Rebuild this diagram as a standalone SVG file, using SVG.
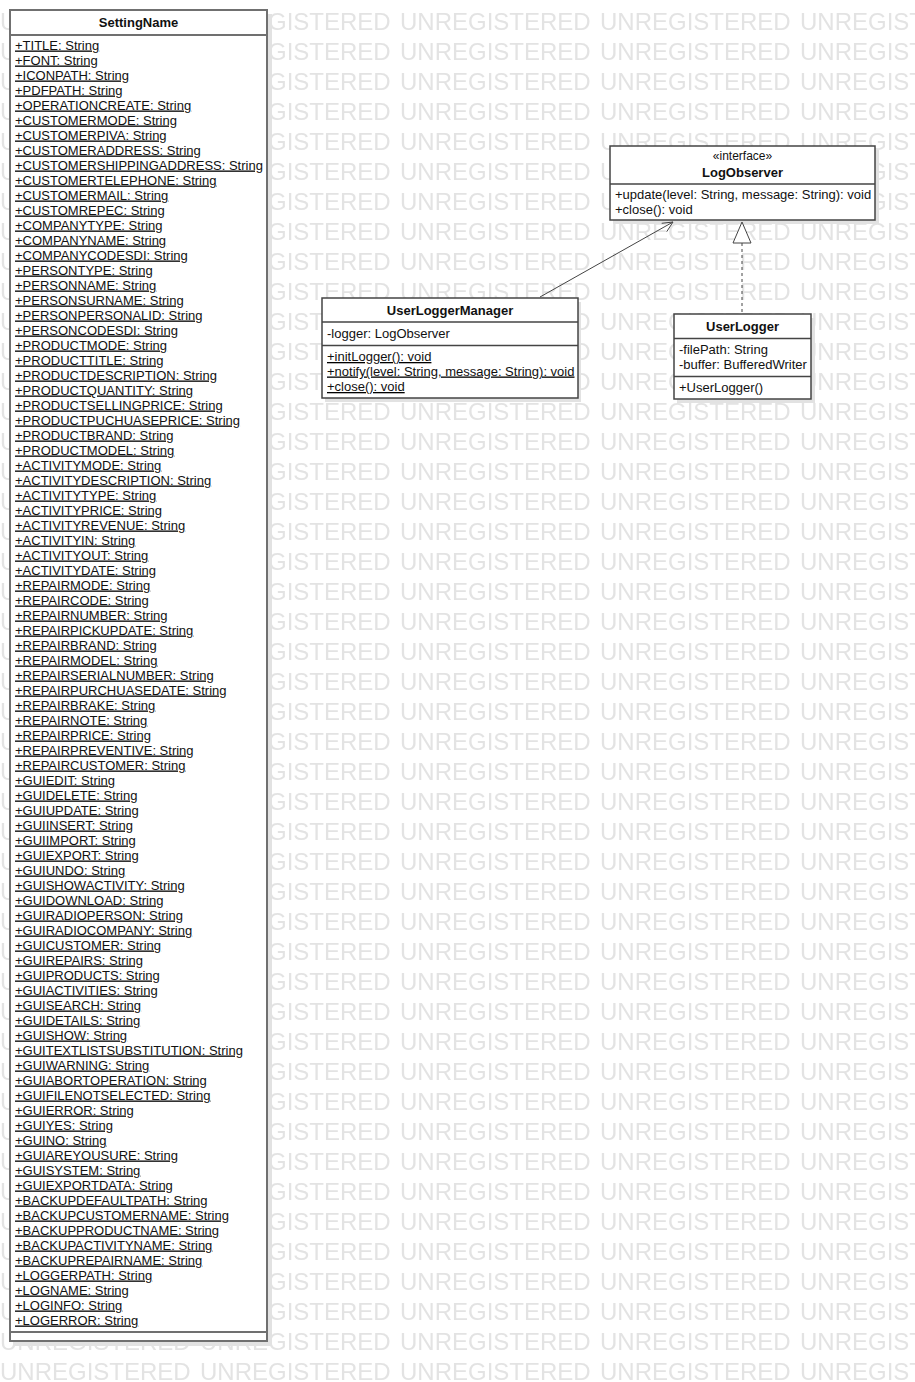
<svg xmlns="http://www.w3.org/2000/svg" width="915" height="1382" viewBox="0 0 915 1382">
<style>
text{font-family:"Liberation Sans",Arial,sans-serif;font-size:13px;fill:#111}
.wm{font-size:24px;fill:#e3e3e3}
.name{font-weight:bold;text-anchor:middle}
.st{text-decoration:underline}
.ster{font-size:12px;text-anchor:middle}
.box{fill:#fff;stroke:#444;stroke-width:1.5}
.shadow{fill:#e2e2e2}
.sep{stroke:#444;stroke-width:1.5}
.conn{fill:none;stroke:#444;stroke-width:1}
</style>
<defs>
<pattern id="wmp" x="0" y="0" width="200" height="30" patternUnits="userSpaceOnUse">
<text class="wm" x="0" y="29.5">UNREGISTERED</text>
</pattern>
</defs>
<rect width="915" height="1382" fill="#fff"/>
<rect y="0" width="915" height="1382" fill="url(#wmp)"/>

<g id="SettingName">
<rect class="shadow" x="13" y="14" width="259" height="1332"/>
<rect class="box" x="10" y="10" width="257" height="1331" style="stroke:#707070;stroke-width:2"/>
<line class="sep" x1="10" y1="35" x2="267" y2="35" style="stroke:#707070;stroke-width:2"/>
<line class="sep" x1="10" y1="1332" x2="267" y2="1332" style="stroke:#707070;stroke-width:2"/>
<text class="name" x="138.5" y="27">SettingName</text>
<g class="st">
<text x="15" y="49.5">+TITLE: String</text>
<text x="15" y="64.5">+FONT: String</text>
<text x="15" y="79.5">+ICONPATH: String</text>
<text x="15" y="94.5">+PDFPATH: String</text>
<text x="15" y="109.5">+OPERATIONCREATE: String</text>
<text x="15" y="124.5">+CUSTOMERMODE: String</text>
<text x="15" y="139.5">+CUSTOMERPIVA: String</text>
<text x="15" y="154.5">+CUSTOMERADDRESS: String</text>
<text x="15" y="169.5">+CUSTOMERSHIPPINGADDRESS: String</text>
<text x="15" y="184.5">+CUSTOMERTELEPHONE: String</text>
<text x="15" y="199.5">+CUSTOMERMAIL: String</text>
<text x="15" y="214.5">+CUSTOMREPEC: String</text>
<text x="15" y="229.5">+COMPANYTYPE: String</text>
<text x="15" y="244.5">+COMPANYNAME: String</text>
<text x="15" y="259.5">+COMPANYCODESDI: String</text>
<text x="15" y="274.5">+PERSONTYPE: String</text>
<text x="15" y="289.5">+PERSONNAME: String</text>
<text x="15" y="304.5">+PERSONSURNAME: String</text>
<text x="15" y="319.5">+PERSONPERSONALID: String</text>
<text x="15" y="334.5">+PERSONCODESDI: String</text>
<text x="15" y="349.5">+PRODUCTMODE: String</text>
<text x="15" y="364.5">+PRODUCTTITLE: String</text>
<text x="15" y="379.5">+PRODUCTDESCRIPTION: String</text>
<text x="15" y="394.5">+PRODUCTQUANTITY: String</text>
<text x="15" y="409.5">+PRODUCTSELLINGPRICE: String</text>
<text x="15" y="424.5">+PRODUCTPUCHUASEPRICE: String</text>
<text x="15" y="439.5">+PRODUCTBRAND: String</text>
<text x="15" y="454.5">+PRODUCTMODEL: String</text>
<text x="15" y="469.5">+ACTIVITYMODE: String</text>
<text x="15" y="484.5">+ACTIVITYDESCRIPTION: String</text>
<text x="15" y="499.5">+ACTIVITYTYPE: String</text>
<text x="15" y="514.5">+ACTIVITYPRICE: String</text>
<text x="15" y="529.5">+ACTIVITYREVENUE: String</text>
<text x="15" y="544.5">+ACTIVITYIN: String</text>
<text x="15" y="559.5">+ACTIVITYOUT: String</text>
<text x="15" y="574.5">+ACTIVITYDATE: String</text>
<text x="15" y="589.5">+REPAIRMODE: String</text>
<text x="15" y="604.5">+REPAIRCODE: String</text>
<text x="15" y="619.5">+REPAIRNUMBER: String</text>
<text x="15" y="634.5">+REPAIRPICKUPDATE: String</text>
<text x="15" y="649.5">+REPAIRBRAND: String</text>
<text x="15" y="664.5">+REPAIRMODEL: String</text>
<text x="15" y="679.5">+REPAIRSERIALNUMBER: String</text>
<text x="15" y="694.5">+REPAIRPURCHUASEDATE: String</text>
<text x="15" y="709.5">+REPAIRBRAKE: String</text>
<text x="15" y="724.5">+REPAIRNOTE: String</text>
<text x="15" y="739.5">+REPAIRPRICE: String</text>
<text x="15" y="754.5">+REPAIRPREVENTIVE: String</text>
<text x="15" y="769.5">+REPAIRCUSTOMER: String</text>
<text x="15" y="784.5">+GUIEDIT: String</text>
<text x="15" y="799.5">+GUIDELETE: String</text>
<text x="15" y="814.5">+GUIUPDATE: String</text>
<text x="15" y="829.5">+GUIINSERT: String</text>
<text x="15" y="844.5">+GUIIMPORT: String</text>
<text x="15" y="859.5">+GUIEXPORT: String</text>
<text x="15" y="874.5">+GUIUNDO: String</text>
<text x="15" y="889.5">+GUISHOWACTIVITY: String</text>
<text x="15" y="904.5">+GUIDOWNLOAD: String</text>
<text x="15" y="919.5">+GUIRADIOPERSON: String</text>
<text x="15" y="934.5">+GUIRADIOCOMPANY: String</text>
<text x="15" y="949.5">+GUICUSTOMER: String</text>
<text x="15" y="964.5">+GUIREPAIRS: String</text>
<text x="15" y="979.5">+GUIPRODUCTS: String</text>
<text x="15" y="994.5">+GUIACTIVITIES: String</text>
<text x="15" y="1009.5">+GUISEARCH: String</text>
<text x="15" y="1024.5">+GUIDETAILS: String</text>
<text x="15" y="1039.5">+GUISHOW: String</text>
<text x="15" y="1054.5">+GUITEXTLISTSUBSTITUTION: String</text>
<text x="15" y="1069.5">+GUIWARNING: String</text>
<text x="15" y="1084.5">+GUIABORTOPERATION: String</text>
<text x="15" y="1099.5">+GUIFILENOTSELECTED: String</text>
<text x="15" y="1114.5">+GUIERROR: String</text>
<text x="15" y="1129.5">+GUIYES: String</text>
<text x="15" y="1144.5">+GUINO: String</text>
<text x="15" y="1159.5">+GUIAREYOUSURE: String</text>
<text x="15" y="1174.5">+GUISYSTEM: String</text>
<text x="15" y="1189.5">+GUIEXPORTDATA: String</text>
<text x="15" y="1204.5">+BACKUPDEFAULTPATH: String</text>
<text x="15" y="1219.5">+BACKUPCUSTOMERNAME: String</text>
<text x="15" y="1234.5">+BACKUPPRODUCTNAME: String</text>
<text x="15" y="1249.5">+BACKUPACTIVITYNAME: String</text>
<text x="15" y="1264.5">+BACKUPREPAIRNAME: String</text>
<text x="15" y="1279.5">+LOGGERPATH: String</text>
<text x="15" y="1294.5">+LOGNAME: String</text>
<text x="15" y="1309.5">+LOGINFO: String</text>
<text x="15" y="1324.5">+LOGERROR: String</text>
</g>
</g>

<g id="LogObserver">
<rect class="shadow" x="613" y="150" width="266" height="74"/>
<rect class="box" x="610" y="146" width="265" height="74"/>
<line class="sep" x1="610" y1="184" x2="875" y2="184"/>
<text class="ster" x="742.5" y="160">«interface»</text>
<text class="name" x="742.5" y="176.5">LogObserver</text>
<text x="615" y="198.5">+update(level: String, message: String): void</text>
<text x="615" y="214">+close(): void</text>
</g>

<g id="UserLoggerManager">
<rect class="shadow" x="325" y="302" width="256" height="100"/>
<rect class="box" x="322" y="298" width="256" height="100"/>
<line class="sep" x1="322" y1="322" x2="578" y2="322"/>
<line class="sep" x1="322" y1="345.5" x2="578" y2="345.5"/>
<text class="name" x="450" y="315">UserLoggerManager</text>
<text x="327" y="337.5">-logger: LogObserver</text>
<g class="st">
<text x="327" y="361">+initLogger(): void</text>
<text x="327" y="375.5">+notify(level: String, message: String): void</text>
<text x="327" y="391">+close(): void</text>
</g>
</g>

<g id="UserLogger">
<rect class="shadow" x="677" y="318" width="138" height="85"/>
<rect class="box" x="674" y="314" width="137" height="85"/>
<line class="sep" x1="674" y1="338.5" x2="811" y2="338.5"/>
<line class="sep" x1="674" y1="376.5" x2="811" y2="376.5"/>
<text class="name" x="742.5" y="330.5">UserLogger</text>
<text x="679" y="354">-filePath: String</text>
<text x="679" y="368.5">-buffer: BufferedWriter</text>
<text x="679" y="392">+UserLogger()</text>
</g>

<g id="connectors">
<path class="conn" d="M540 297 L673 222"/>
<path class="conn" d="M661.7 223.3 L673 222 L666.7 231.7"/>
<path class="conn" d="M742 243 L742 314" stroke-dasharray="3,3"/>
<path class="conn" d="M742 222 L733 243 L751 243 Z" style="fill:#fff"/>
</g>
</svg>
